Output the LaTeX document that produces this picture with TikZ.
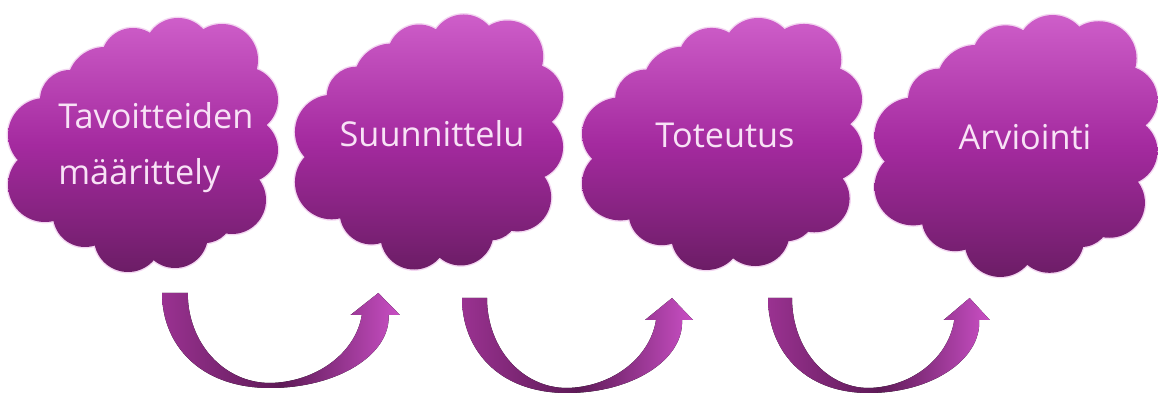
\documentclass[tikz,border=0pt]{standalone}
\usepackage{fontspec}
\setmainfont{Open Sans}
\usepackage{tikz}

\definecolor{cloudtop}{HTML}{CE5EC9}
\definecolor{cloudmid}{HTML}{A42A9F}
\definecolor{cloudbot}{HTML}{6C1D66}
\definecolor{cloudrim}{HTML}{F3D6F1}
\definecolor{cloudtext}{HTML}{F8E2F6}
\definecolor{arrowlight}{HTML}{C94FC4}
\definecolor{arrowmid}{HTML}{9A3291}
\definecolor{arrowdark}{HTML}{5E1A57}

\tikzset{
  cloudlabel/.style={text=cloudtext, inner sep=0pt,
    font=\fontsize{19.5}{32}\selectfont},
  cloudpuffs/.style={insert path={
      (-85,72) rectangle (90,-75)
      (-38,60) circle[radius=38]  (-10,85) circle[radius=32]
      (35,93) circle[radius=34]   (79,85) circle[radius=36]
      (102,45) circle[radius=33]  (102,-5) circle[radius=33]
      (89,-55) circle[radius=34]  (62,-70) circle[radius=28]
      (32,-90) circle[radius=33]  (-15,-93) circle[radius=34]
      (-58,-70) circle[radius=32] (-98,-40) circle[radius=37]
      (-98,10) circle[radius=37]  (-73,45) circle[radius=30]}},
  % cloud made of puffs round a core, with a pale rim
  pics/puffcloud/.style={code={
    \draw[cloudrim, line width=1.6pt, cloudpuffs];
    \shade[top color=cloudtop, bottom color=cloudbot, middle color=cloudmid, cloudpuffs];
  }},
  pics/bendarrow/.style={code={
    \fill[left color=arrowmid, right color=arrowlight, middle color=arrowdark]
      (0,0) .. controls (0,-50) and (35,-95) .. (105,-95)
      .. controls (170,-95) and (222,-62) .. (220,-22) -- (231,-22) -- (210,0)
      -- (183,-22) -- (194,-22) .. controls (188,-60) and (150,-89) .. (105,-90)
      .. controls (60,-90) and (25,-50) .. (25,0) -- cycle;
  }}
}

\begin{document}
\begin{tikzpicture}[x=0.02cm, y=0.02cm]
\useasboundingbox (0,0) rectangle (1158,394);

% Clouds
\pic (c1) at (143,249) {puffcloud};
\pic[xscale=0.993, yscale=1.004] (c2) at (429,252) {puffcloud};
\pic[xscale=1.037, yscale=0.992] (c3) at (722,250) {puffcloud};
\pic[xscale=1.048, yscale=1.031] (c4) at (1016,248) {puffcloud};

% Labels
\node[cloudlabel, align=left, anchor=north west] (t1) at (58,292) {Tavoitteiden\\määrittely};
\node[cloudlabel, anchor=base] (t2) at (432,247) {Suunnittelu};
\node[cloudlabel, anchor=base] (t3) at (725,246) {Toteutus};
\node[cloudlabel, anchor=base] (t4) at (1025,244) {Arviointi};

% Arrows
\pic[xscale=1.03] (a1) at (162,101) {bendarrow};
\pic (a2) at (462,96) {bendarrow};
\pic[xscale=0.96] (a3) at (768,96) {bendarrow};
\end{tikzpicture}
\end{document}
